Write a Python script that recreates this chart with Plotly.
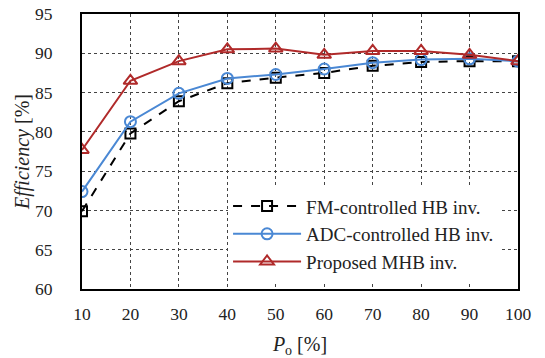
import plotly.graph_objects as go

po = [10, 20, 30, 40, 50, 60, 70, 80, 90, 100]
fm_eff = [69.9, 79.8, 83.9, 86.2, 86.9, 87.5, 88.4, 88.9, 89.0, 89.0]
adc_eff = [72.4, 81.3, 84.9, 86.8, 87.3, 88.0, 88.8, 89.2, 89.3, 89.0]
mhb_eff = [77.7, 86.5, 89.0, 90.5, 90.6, 89.8, 90.3, 90.3, 89.8, 89.0]
names = ["FM-controlled HB inv.", "ADC-controlled HB inv.", "Proposed MHB inv."]
x_ticks = [10, 20, 30, 40, 50, 60, 70, 80, 90, 100]
y_ticks = [60, 65, 70, 75, 80, 85, 90, 95]

FAM = "'Liberation Serif', 'Times New Roman', serif"

fig = go.Figure()
fig.add_trace(go.Scatter(x=po, y=fm_eff, name=names[0], mode="lines+markers",
                         line=dict(color="black", width=2, dash="dash"),
                         marker=dict(symbol="square-open", size=10, color="black", line=dict(width=2))))
fig.add_trace(go.Scatter(x=po, y=adc_eff, name=names[1], mode="lines+markers",
                         line=dict(color="#4a88d4", width=2),
                         marker=dict(symbol="circle-open", size=11, color="#4a88d4", line=dict(width=2))))
fig.add_trace(go.Scatter(x=po, y=mhb_eff, name=names[2], mode="lines+markers",
                         line=dict(color="#b02a2a", width=2),
                         marker=dict(symbol="triangle-up-open", size=12, color="#b02a2a", line=dict(width=2))))

fig.update_layout(
    width=545, height=358,
    margin=dict(l=82, r=27, t=14, b=69),
    paper_bgcolor="white", plot_bgcolor="white",
    font=dict(family=FAM, size=17.5, color="#222"),
    showlegend=True,
    legend=dict(x=0.335, y=0.37, xanchor="left", yanchor="top",
                bgcolor="white", borderwidth=0, itemwidth=68,
                font=dict(family=FAM, size=19, color="#222"),
                tracegroupgap=0),
)
fig.update_xaxes(range=[10, 100], tickvals=x_ticks, showgrid=True,
                 gridcolor="#444", griddash="3px,3px", gridwidth=1,
                 showline=True, linecolor="black", linewidth=2, mirror=True,
                 ticks="", ticklabelstandoff=8, zeroline=False, automargin=False,
                 tickfont=dict(family=FAM, size=17.5, color="#222"),
                 title=dict(text="<i>P</i><sub>o</sub> [%]", standoff=16,
                            font=dict(family=FAM, size=20, color="#222")))
fig.update_yaxes(range=[60, 95], tickvals=y_ticks, showgrid=True,
                 gridcolor="#444", griddash="3px,3px", gridwidth=1,
                 showline=True, linecolor="black", linewidth=2, mirror=True,
                 ticks="", ticklabelstandoff=24, zeroline=False, automargin=False,
                 tickfont=dict(family=FAM, size=17.5, color="#222"),
                 title=dict(text="<i>Efficiency</i> [%]", standoff=0,
                            font=dict(family=FAM, size=20, color="#222")))

fig.write_html("out.html")
